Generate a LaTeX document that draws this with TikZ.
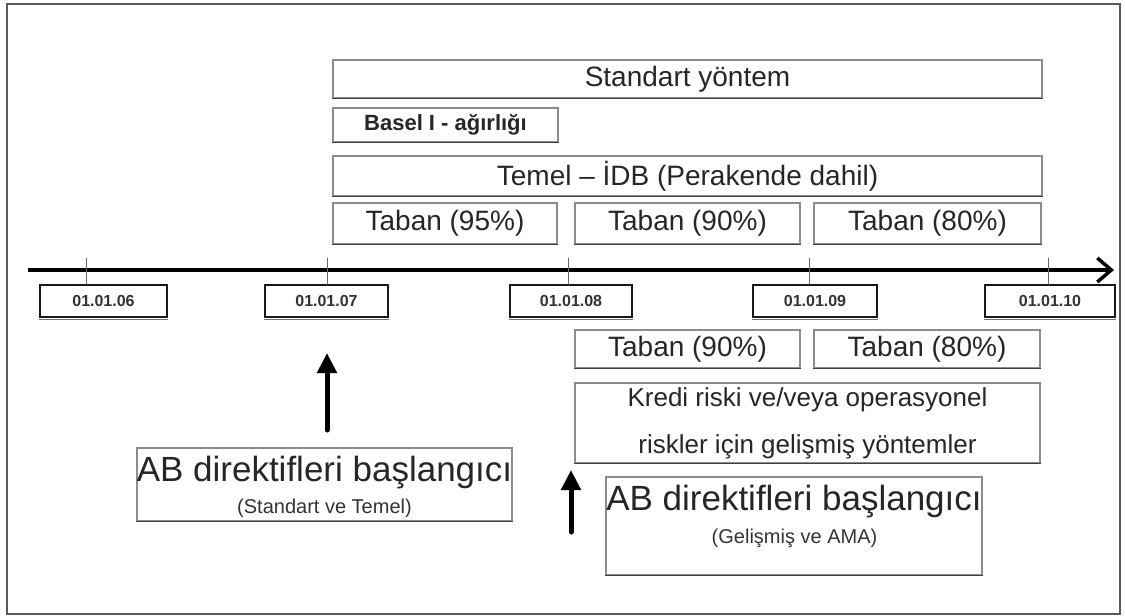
\documentclass[tikz,border=0pt]{standalone}
\usepackage{fontspec}
\setmainfont{Liberation Sans}
\usetikzlibrary{arrows.meta}
\begin{document}
\begin{tikzpicture}[x=1pt,y=-1pt,
  box/.style={draw=black!45, line width=1.2pt, inner sep=0pt, text=black!85,
    font=\fontsize{28}{30}\selectfont},
  edgeshade/.style={draw=black!75, line width=1.6pt},
  datebox/.style={draw=black!90, line width=1.8pt, fill=white, inner sep=0pt,
    minimum height=32pt, text=black!80, font=\bfseries\fontsize{16}{18}\selectfont},
  dateshade/.style={draw=black!55, line width=1.4pt},
  tickline/.style={draw=black!60, line width=0.8pt},
  axis/.style={draw=black, line width=3.5pt,
    -{Straight Barb[length=14pt,width=24pt,line width=3.5pt]}},
  uparrow/.style={draw=black, line width=5pt, line cap=round,
    -{Triangle[length=20pt,width=19pt]}},
  bigtext/.style={inner sep=0pt, text=black!85, font=\fontsize{35}{38}\selectfont},
  smalltext/.style={inner sep=0pt, text=black!80, font=\fontsize{20}{22}\selectfont}
]
\useasboundingbox (0,0) rectangle (1125,616);
% outer frame
\draw[black!65, line width=1.5pt] (7,4) rectangle (1120,614);

% bars above the time axis
\node[box, minimum width=709pt, minimum height=38pt] (std) at (687.5,79) {Standart yöntem};
\node[box, minimum width=225pt, minimum height=34pt,
      font=\bfseries\fontsize{22}{24}\selectfont] (basel) at (445.5,125) {Basel I - ağırlığı};
\node[box, minimum width=709pt, minimum height=40pt] (temel) at (687.5,176) {Temel – İDB (Perakende dahil)};
\node[box, minimum width=224pt, minimum height=41pt] (t95) at (445,223.5) {Taban (95\%)};
\node[box, minimum width=225pt, minimum height=41pt] (t90a) at (687.5,223.5) {Taban (90\%)};
\node[box, minimum width=227pt, minimum height=41pt] (t80a) at (927.5,223.5) {Taban (80\%)};

% time axis
\coordinate (ax0) at (28,270);
\coordinate (ax1) at (1114,270);
\draw[axis] (ax0) -- (ax1);

% dates
\node[datebox, minimum width=127pt] (d06) at (103.5,301) {01.01.06};
\node[datebox, minimum width=123pt] (d07) at (326.5,301) {01.01.07};
\node[datebox, minimum width=122pt] (d08) at (571,301) {01.01.08};
\node[datebox, minimum width=124pt] (d09) at (815,301) {01.01.09};
\node[datebox, minimum width=130pt] (d10) at (1050,301) {01.01.10};
\foreach \d in {d06,d07,d08,d09,d10}
  \draw[dateshade] ([yshift=-1.6pt]\d.south west) -- ([yshift=-1.6pt]\d.south east);

% ticks
\foreach \n/\x in {06/86,07/327,08/568,09/809,10/1048}{
  \coordinate (k\n a) at (\x,258);
  \coordinate (k\n b) at (\x,285);
  \draw[tickline] (k\n a) -- (k\n b);
}

% bars below the time axis
\node[box, minimum width=225pt, minimum height=38pt] (t90b) at (687.5,349) {Taban (90\%)};
\node[box, minimum width=226pt, minimum height=38pt] (t80b) at (927,349) {Taban (80\%)};
\node[box, minimum width=465pt, minimum height=80pt, align=center,
      font=\fontsize{26}{47}\selectfont] (kredi) at (807.5,423)
  {Kredi riski ve/veya operasyonel\\riskler için gelişmiş yöntemler};

% directive start boxes
\node[box, minimum width=375pt, minimum height=73pt] (ab1) at (324.5,484.5) {};
\node[bigtext] (ab1t) at (324.5,473) {AB direktifleri başlangıcı};
\node[smalltext] (ab1s) at (324.5,508) {(Standart ve Temel)};

\node[box, minimum width=376pt, minimum height=98pt] (ab2) at (794,526) {};
\node[bigtext] (ab2t) at (794,502) {AB direktifleri başlangıcı};
\node[smalltext] (ab2s) at (794.5,538) {(Gelişmiş ve AMA)};

\foreach \b in {std,basel,temel,t95,t90a,t80a,t90b,t80b,kredi,ab1,ab2}
  \draw[edgeshade] (\b.south west) -- (\b.south east);

% upward arrows
\coordinate (up1a) at (327,430);
\coordinate (up1b) at (327,353);
\draw[uparrow] (up1a) -- (up1b);
\coordinate (up2a) at (571,532);
\coordinate (up2b) at (571,470);
\draw[uparrow] (up2a) -- (up2b);
\end{tikzpicture}
\end{document}
